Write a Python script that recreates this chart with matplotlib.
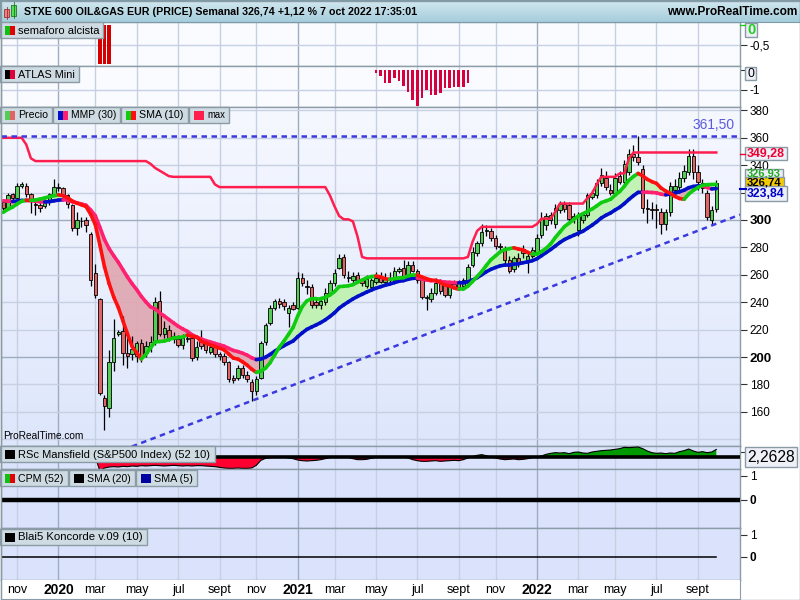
import numpy as np
import pandas as pd
import matplotlib
matplotlib.use('Agg')
import matplotlib.pyplot as plt
from matplotlib.collections import LineCollection
from matplotlib.patches import Rectangle

plt.rcParams['font.family'] = ['Liberation Sans', 'DejaVu Sans']

# ---- weekly candles, 14 oct 2019 .. 3 oct 2022 ----
opens = [313, 309, 319, 316, 325, 325, 319, 312, 311, 310, 313, 319, 324,
         323, 318, 311, 294, 299, 300, 290, 261, 242, 170, 163, 196, 217,
         219, 203, 202, 201, 210, 203, 207, 211, 241, 217, 220, 215, 213,
         209, 214, 214, 200, 212, 210, 204, 207, 202, 201, 196, 185, 185,
         192, 187, 182, 175, 185, 211, 225, 236, 241, 240, 232, 238, 236,
         258, 252, 251, 240, 238, 240, 247, 254, 265, 273, 258, 256, 260,
         256, 252, 251, 255, 258, 255, 258, 256, 263, 265, 260, 267, 263,
         256, 243, 242, 247, 255, 254, 245, 253, 251, 252, 256, 267, 276,
         283, 292, 292, 287, 281, 278, 271, 264, 272, 279, 270, 274, 276,
         289, 296, 300, 297, 307, 312, 311, 303, 293, 300, 304, 317, 318,
         327, 331, 322, 320, 332, 328, 335, 348, 346, 337, 309, 308, 308,
         306, 297, 306, 322, 324, 331, 335, 347, 335, 327, 320, 300, 308]
highs = [315, 320, 320, 327, 328, 327, 320, 314, 313, 315, 320, 330, 327,
         324, 319, 312, 306, 302, 302, 291, 268, 243, 172, 205, 228, 220,
         230, 220, 215, 212, 213, 212, 215, 244, 248, 226, 223, 218, 216,
         217, 218, 216, 212, 220, 212, 210, 209, 204, 203, 197, 187, 194,
         194, 190, 184, 186, 212, 225, 238, 242, 243, 242, 238, 240, 262,
         261, 256, 253, 243, 243, 250, 256, 264, 275, 275, 263, 262, 262,
         258, 260, 258, 262, 262, 261, 262, 266, 266, 271, 270, 270, 264,
         258, 245, 250, 258, 257, 256, 255, 256, 256, 258, 268, 280, 285,
         297, 296, 294, 289, 283, 281, 274, 274, 276, 282, 277, 280, 290,
         306, 305, 306, 312, 314, 314, 313, 305, 306, 306, 320, 322, 330,
         338, 336, 326, 334, 336, 344, 352, 355, 361.5, 340, 315, 313, 312,
         309, 308, 328, 330, 335, 340, 352, 352, 340, 330, 322, 310, 329]
lows = [307, 307, 314, 315, 323, 317, 305, 304, 306, 309, 311, 318, 321,
        316, 309, 292, 289, 295, 291, 252, 243, 172, 147, 156, 190, 215,
        194, 192, 198, 196, 196, 200, 204, 209, 215, 214, 212, 210, 207,
        206, 211, 197, 198, 206, 203, 202, 200, 198, 194, 182, 181, 183,
        185, 182, 168, 172, 184, 209, 223, 234, 236, 234, 222, 234, 235,
        252, 246, 236, 236, 235, 238, 246, 252, 264, 258, 255, 254, 254,
        252, 250, 248, 253, 254, 253, 254, 254, 261, 257, 257, 262, 254,
        242, 234, 240, 245, 246, 244, 243, 250, 249, 250, 255, 266, 274,
        281, 288, 285, 279, 277, 268, 261, 262, 266, 272, 261, 272, 274,
        287, 293, 297, 294, 305, 306, 299, 298, 288, 298, 302, 315, 316,
        325, 322, 318, 318, 326, 326, 333, 343, 340, 305, 298, 301, 294,
        290, 293, 303, 318, 320, 328, 333, 330, 322, 320, 300, 296, 306]
closes = [309, 318, 316, 325, 326, 319, 315, 311, 309, 313, 319, 324, 323,
          318, 312, 294, 300, 299, 296, 256, 245, 174, 164, 196, 214, 218,
          203, 201, 206, 210, 199, 208, 211, 240, 217, 221, 214, 213, 209,
          214, 213, 199, 207, 208, 205, 207, 202, 201, 196, 184, 183, 192,
          187, 184, 175, 184, 210, 223, 236, 241, 239, 237, 236, 235, 258,
          254, 251, 238, 238, 241, 247, 254, 261, 272, 260, 258, 259, 256,
          254, 257, 256, 258, 255, 258, 256, 263, 264, 258, 267, 263, 256,
          244, 243, 247, 254, 248, 245, 253, 251, 254, 256, 266, 277, 283,
          291, 292, 287, 281, 280, 271, 263, 272, 268, 276, 274, 278, 287,
          301, 303, 304, 309, 312, 308, 301, 301, 303, 304, 318, 320, 327,
          333, 324, 320, 331, 328, 341, 348, 346, 342, 309, 308, 307, 307,
          297, 306, 325, 325, 331, 336, 347, 335, 328, 323, 302, 307, 326.74]
# closes of the 29 weeks before the first bar, estimated from where the
# moving averages start on the left edge
pre_closes = [338, 342, 344, 346, 343, 340, 333, 335, 328, 322, 325, 323,
              330, 328, 330, 324, 322, 320, 312, 300, 296, 300, 302, 306,
              312, 316, 308, 302, 305]

# "max" indicator line
max_line = [360, 360, 360, 360, 360, 355, 345, 343, 343, 343, 343, 343, 343,
            343, 343, 343, 343, 343, 343, 343, 343, 343, 343, 343, 343, 343,
            343, 343, 343, 343, 343, 343, 341, 338, 336, 334, 332, 331.5, 331.5,
            331.5, 331.5, 331.5, 331.5, 331.5, 331.5, 331.5, 326, 324, 324, 324,
            324, 324, 324, 324, 324, 324, 324, 324, 324, 324, 324, 324, 324,
            324, 324, 324, 324, 324, 324, 324, 324, 318, 310, 303, 300.5, 300.5,
            299, 288, 273, 272, 272, 272, 272, 272, 272, 272, 272, 272, 272,
            272, 272, 272, 272, 272, 272, 272, 272, 272, 272, 272, 272, 273,
            284, 292, 295, 295, 295, 295, 295, 295, 295, 295, 295, 295, 295,
            295, 297, 301, 301, 301, 306, 312, 312, 312, 312, 312, 312, 316,
            319.5, 326, 331.5, 331.5, 331.5, 331.5, 334, 334, 345, 349.28,
            349.28, 349.28, 349.28, 349.28, 349.28, 349.28, 349.28, 349.28,
            349.28, 349.28, 349.28, 349.28, 349.28, 349.28, 349.28, 349.28,
            349.28, 349.28]

# RSc Mansfield (S&P500) -- starts in March 2020
rsc = [np.nan] * 20 + [
    0.0, -4.2, -3.3, -3.0, -2.9, -3.0, -2.8, -2.9, -2.7, -2.8, -2.6, -2.7,
    -2.6, -2.5, -2.6, -2.7, -2.6, -2.5, -2.6, -2.7, -2.6, -2.7, -2.6, -2.6,
    -2.7, -2.8, -2.9, -3.1, -3.3, -3.4, -3.4, -3.3, -3.4, -3.4, -3.3, -2.5,
    -1.0, -0.4, -0.2, -0.1, 0.0, -0.1, -0.3, -0.5, -0.9, -1.1, -1.2, -1.1,
    -1.0, -0.8, -0.5, -0.2, 0.0, 0.1, 0.0, -0.1, -0.5, -0.8, -0.8, -0.7,
    -0.4, -0.1, 0.0, 0.1, 0.0, 0.0, -0.1, 0.0, -0.3, -0.8, -1.1, -1.3,
    -1.3, -1.2, -1.1, -1.3, -1.2, -1.1, -1.0, -1.1, -0.8, -0.3, 0.1, 0.5,
    0.7, 0.4, 0.0, -0.3, -0.6, -0.8, -0.7, -0.6, -0.8, -0.7, -0.5, -0.2,
    0.0, 0.3, 0.8, 1.1, 1.3, 1.2, 1.3, 1.0, 1.4, 1.5, 1.2, 1.1, 1.5, 1.7,
    1.9, 2.0, 2.1, 2.3, 2.5, 2.9, 2.8, 2.9, 3.0, 2.5, 1.8, 1.3, 1.1, 1.2,
    1.0, 1.2, 1.1, 1.6, 1.9, 2.4, 1.8, 1.4, 1.6, 1.3, 1.5, 2.2628]

semaforo_bars = [21, 22, 23]
semaforo_vals = [-1, -1, -1]
atlas_first_bar = 81
atlas_vals = [-0.13, -0.3, -0.63, -0.63, -0.42, -0.55, -0.8, -1.08, -1.5,
              -1.8, -1.4, -1.0, -1.25, -1.25, -1.17, -0.92, -0.92, -0.83,
              -0.87, -0.87, -0.63]

# trend line anchors (bar, price) and resistance level
trend_pts = [(54, 168), (154, 296)]
resist = 361.50

price_ticks = [160, 180, 200, 220, 240, 260, 280, 300, 320, 340, 360, 380]
month_names = {1: None, 3: 'mar', 5: 'may', 7: 'jul', 9: 'sept', 11: 'nov'}

GREEN_C = '#55cc55'
RED_C = '#e06464'
GRID = '#c7cfe2'
GRID_DARK = '#9eacc0'
SEP = '#8c9ca8'

W, H = 800, 600
fig = plt.figure(figsize=(8, 6), dpi=100, facecolor='white')
renderer = fig.canvas.get_renderer()

X0_PX, DX_PX = 3.3, 4.6   # pixel of bar 0 and bar spacing
RIGHT_PX = 740
xlim = ((1 - X0_PX) / DX_PX, (RIGHT_PX - X0_PX) / DX_PX)


def px_axes(x0, y0, x1, y1, z=1):
    return fig.add_axes([x0 / W, 1 - y1 / H, (x1 - x0) / W, (y1 - y0) / H], zorder=z)


def gradient(ax, top, bottom):
    c1 = np.array(matplotlib.colors.to_rgb(top))
    c2 = np.array(matplotlib.colors.to_rgb(bottom))
    t = np.linspace(0, 1, 64)[:, None]
    img = (c1 * (1 - t) + c2 * t)[:, None, :]
    ax.imshow(img, extent=[0, 1, 0, 1], transform=ax.transAxes, aspect='auto',
              zorder=-10, interpolation='bilinear')


def fit(t, width, grow=False):
    w = t.get_window_extent(renderer).width
    if w > width or grow:
        t.set_fontsize(t.get_fontsize() * width / w)
    return t


dates = pd.date_range('2019-10-14', periods=len(closes), freq='7D')
x = np.arange(len(closes))
month_bars = [i for i in range(1, len(dates)) if dates[i].month != dates[i - 1].month
              and dates[i].month in month_names]


def setup_panel(ax, y0, y1, bg=None):
    ax.set_xlim(*xlim)
    ax.set_ylim(y0, y1)
    if bg is not None:
        ax.set_facecolor(bg)
    for i in month_bars:
        yr = dates[i].month == 1
        ax.axvline(i, color=GRID_DARK if yr else GRID, lw=1.0, zorder=0)
    for s in ax.spines.values():
        s.set_color(SEP)
        s.set_linewidth(1)
    ax.set_xticks([])
    ax.yaxis.tick_right()
    ax.tick_params(axis='y', direction='out', length=5, width=0.8, colors='#333333',
                   labelsize=8.5, pad=2, labelcolor='black')


# ---- panel 1: semaforo alcista ----
ax1 = px_axes(1, 22, RIGHT_PX, 66)
setup_panel(ax1, -1.05, 0.08, '#fafbff')
ax1.axhline(-0.5, color=GRID, lw=1, zorder=0)
ax1.bar(semaforo_bars, semaforo_vals, width=0.72, color='#d40000', zorder=2)
ax1.set_yticks([-0.5])
ax1.set_yticklabels(['-0,5'])

# ---- panel 2: ATLAS Mini ----
ax2 = px_axes(1, 66, RIGHT_PX, 107)
setup_panel(ax2, -1.85, 0.2, '#fafbff')
ax2.axhline(-1, color=GRID, lw=1, zorder=0)
ax2.bar(np.arange(len(atlas_vals)) + atlas_first_bar, atlas_vals, width=0.6,
        color='#d8003c', zorder=2)
ax2.set_yticks([0, -1])
ax2.set_yticklabels(['', '-1'])

# ---- panel 3: price ----
ax3 = px_axes(1, 107, RIGHT_PX, 446)
gradient(ax3, '#f6f8ff', '#dde6fb')
setup_panel(ax3, 300 - (446 - 220) / 1.37, 300 + (220 - 107) / 1.37)
for v in range(140, 400, 20):
    dark = v in (200, 300)
    ax3.axhline(v, color=GRID_DARK if dark else GRID, lw=1.0, zorder=0)

allc = pd.Series(pre_closes + closes, dtype=float)
sma10 = allc.rolling(10).mean().values[len(pre_closes):]
wts = np.arange(1, 31)
mmp30 = allc.rolling(30).apply(lambda s: np.dot(s, wts) / wts.sum(), raw=True).values[len(pre_closes):]

ax3.fill_between(x, sma10, mmp30, where=sma10 >= mmp30, interpolate=True,
                 color='#bdf2ad', alpha=0.9, lw=0, zorder=1)
ax3.fill_between(x, sma10, mmp30, where=sma10 < mmp30, interpolate=True,
                 color='#dfa6b0', alpha=0.9, lw=0, zorder=1)

o, hi, lo, c = (np.array(a, dtype=float) for a in (opens, highs, lows, closes))
up = c >= o
ax3.vlines(x, lo, hi, color='black', lw=0.9, zorder=3)
ax3.bar(x, np.maximum(np.abs(c - o), 0.5), bottom=np.minimum(o, c), width=0.7,
        color=np.where(up, GREEN_C, RED_C), edgecolor='black', linewidth=0.6, zorder=4)


def trend_line(ax, xs, ys, col_up, col_down, lw, z):
    pts = np.column_stack([xs, ys]).reshape(-1, 1, 2)
    segs = np.concatenate([pts[:-1], pts[1:]], axis=1)
    cols = [col_up if ys[i + 1] >= ys[i] else col_down for i in range(len(ys) - 1)]
    ax.add_collection(LineCollection(segs, colors=cols, linewidths=lw, zorder=z,
                                     capstyle='round', joinstyle='round'))


trend_line(ax3, x, mmp30, '#0010c8', '#ff2070', 2.6, 5)
trend_line(ax3, x, sma10, '#10cc10', '#ff1010', 2.6, 6)
ax3.plot(x, max_line, color='#ff1e4e', lw=1.8, zorder=6)

ax3.axhline(resist, color='#3a3ae0', lw=1.8, ls=(0, (2.2, 1.8)), zorder=6)
(bx1, by1), (bx2, by2) = trend_pts
slope = (by2 - by1) / (bx2 - bx1)
tx = np.array(xlim)
ax3.plot(tx, by1 + slope * (tx - bx1), color='#3a3ae0', lw=1.8,
         ls=(0, (2.2, 1.8)), zorder=6)

ax3.set_yticks(price_ticks)
ax3.set_yticklabels([str(v) for v in price_ticks])
for lab, v in zip(ax3.get_yticklabels(), price_ticks):
    if v in (200, 300):
        lab.set_fontweight('bold')
        lab.set_fontsize(9.5)
fit(ax3.text(xlim[0] + 0.4, 140.5, 'ProRealTime.com', fontsize=10, color='black',
             zorder=7), 81, grow=True)
fit(ax3.text(xlim[1] - 1.2, resist + 2.5, '361,50', fontsize=12, color='#5a5ae0',
             ha='right', va='bottom', zorder=7), 42, grow=True)

# ---- panel 4: RSc Mansfield ----
ax4 = px_axes(1, 446, RIGHT_PX, 469)
setup_panel(ax4, -3.6, 3.3, '#dae3fb')
r = np.array(rsc, dtype=float)
ax4.fill_between(x, r, 0, where=r >= 0, interpolate=True, color='#009a00', lw=0, zorder=2)
ax4.fill_between(x, r, 0, where=r < 0, interpolate=True, color='#ff0030', lw=0, zorder=2)
ax4.plot(x, r, color='black', lw=0.8, zorder=3)
ax4.axhline(0, color='black', lw=2.6, zorder=4)
ax4.set_yticks([1.5])
ax4.set_yticklabels([''])

# ---- panel 5: CPM ----
ax5 = px_axes(1, 469, RIGHT_PX, 528)
setup_panel(ax5, -1.17, 1.29, '#dae3fb')
ax5.axhline(0, color='black', lw=3.2, zorder=3)
ax5.set_yticks([1, 0])
ax5.set_yticklabels(['1', '0'])
ax5.get_yticklabels()[1].set_fontweight('bold')

# ---- panel 6: Koncorde ----
ax6 = px_axes(1, 528, RIGHT_PX, 580)
setup_panel(ax6, -1.08, 1.31, '#dae3fb')
ax6.plot([x[0] - 0.5, x[-1]], [0, 0], color='black', lw=1.1, zorder=3)
ax6.set_yticks([1, 0])
ax6.set_yticklabels(['1', '0'])
ax6.get_yticklabels()[1].set_fontweight('bold')

# ---- x axis strip ----
axx = px_axes(1, 580, RIGHT_PX, 599)
axx.set_xlim(*xlim)
axx.set_ylim(0, 1)
axx.set_yticks([])
for s in axx.spines.values():
    s.set_color(SEP)
axx.spines['top'].set_visible(False)
axx.set_xticks([])
labels = [str(dates[i].year) if dates[i].month == 1 else month_names[dates[i].month]
          for i in month_bars]
for i, lab in zip(month_bars, labels):
    yr = dates[i].month == 1
    axx.text(i, 0.45, lab, ha='center', va='center', fontsize=10 if yr else 9,
             fontweight='bold' if yr else 'normal')

# ---- overlay: title bar, legend boxes, value boxes ----
ov = fig.add_axes([0, 0, 1, 1], zorder=20)
ov.set_xlim(0, W)
ov.set_ylim(H, 0)
ov.axis('off')
ov.patch.set_alpha(0)

tb = px_axes(0, 0, W, 22, z=19)
gradient(tb, '#d2e8f0', '#a6cddb')
tb.set_xticks([]); tb.set_yticks([])
for s in tb.spines.values():
    s.set_color('#7a9aa8')
# small candle icon
ov.add_patch(Rectangle((4, 9), 5, 8, fc='#f08080', ec='#993333', lw=0.6))
ov.plot([6.5, 6.5], [7, 19], color='#993333', lw=0.6)
ov.add_patch(Rectangle((11, 5), 5, 11, fc='#55dd55', ec='#227722', lw=0.6))
ov.plot([13.5, 13.5], [2, 18], color='#227722', lw=0.6)
fit(ov.text(24, 12, 'STXE 600 OIL&GAS EUR (PRICE) Semanal 326,74 +1,12 % 7 oct 2022 17:35:01',
            fontsize=10, fontweight='bold', va='center', ha='left'), 393, grow=True)
fit(ov.text(797, 12, 'www.ProRealTime.com', fontsize=10, fontweight='bold',
            va='center', ha='right'), 130, grow=True)


def legend_box(x0, x1, y0, label, c1, c2=None):
    ov.add_patch(Rectangle((x0, y0), x1 - x0, 16, fc='#cfdbe2', ec='#8a9ba5', lw=1))
    c2 = c2 or c1
    ov.add_patch(Rectangle((x0 + 5, y0 + 3.5), 5, 9, fc=c1, ec='none'))
    ov.add_patch(Rectangle((x0 + 10, y0 + 3.5), 5, 9, fc=c2, ec='none'))
    fit(ov.text(x0 + 18, y0 + 8.5, label, fontsize=9.5, va='center', ha='left'),
        x1 - x0 - 22)


legend_box(0, 103, 22, 'semaforo alcista', '#10c010', '#e00000')
legend_box(0, 79, 66, 'ATLAS Mini', '#000000', '#e0003c')
legend_box(0, 52, 107, 'Precio', '#55cc55', '#e06464')
legend_box(53, 120, 107, 'MMP (30)', '#0010c8', '#ff2070')
legend_box(121, 188, 107, 'SMA (10)', '#10cc10', '#ff1010')
legend_box(189, 229, 107, 'max', '#ff1e4e')
legend_box(0, 215, 446, 'RSc Mansfield (S&P500 Index) (52 10)', '#000000')
legend_box(0, 68, 470, 'CPM (52)', '#10c010', '#e00000')
legend_box(69, 135, 470, 'SMA (20)', '#000000')
legend_box(136, 197, 470, 'SMA (5)', '#0000a0')
legend_box(0, 147, 529, 'Blai5 Koncorde v.09 (10)', '#000000')


def value_box(y0, y1, text, color, fc='#eef0f8', bold=True, x1=787, fs=10.5):
    ov.add_patch(Rectangle((745, y0), x1 - 745, y1 - y0, fc=fc, ec='#8a9ba5', lw=1))
    fit(ov.text(747, (y0 + y1) / 2 + 0.5, text, color=color, fontsize=fs,
                fontweight='bold' if bold else 'normal', va='center', ha='left'),
        x1 - 749)


ov.plot([740, 745], [25, 25], color='#22cc22', lw=1)
value_box(23, 37, '0', '#22cc22', x1=757, fs=12)
value_box(67, 80, '0', 'black', bold=False, x1=756)
ov.plot([740, 745], [154, 154], color='#ee0033', lw=1)
value_box(147, 160, '349,28', '#ee0033')
value_box(169, 178, '326,93', '#22aa22', x1=783, fs=9)
value_box(177, 187, '326,74', 'black', fc='#f5cc00', x1=784)
ov.plot([740, 746], [189, 189], color='#0000cc', lw=1.5)
value_box(186, 201, '323,84', '#0000cc', fs=11.5)
value_box(447, 467, '2,2628', 'black', bold=False, x1=797, fs=13)
ov.add_patch(Rectangle((0.5, 0.5), W - 1, H - 1, fc='none', ec='#8a9ba5', lw=1))

fig.savefig('out.png', dpi=100, facecolor='white')
